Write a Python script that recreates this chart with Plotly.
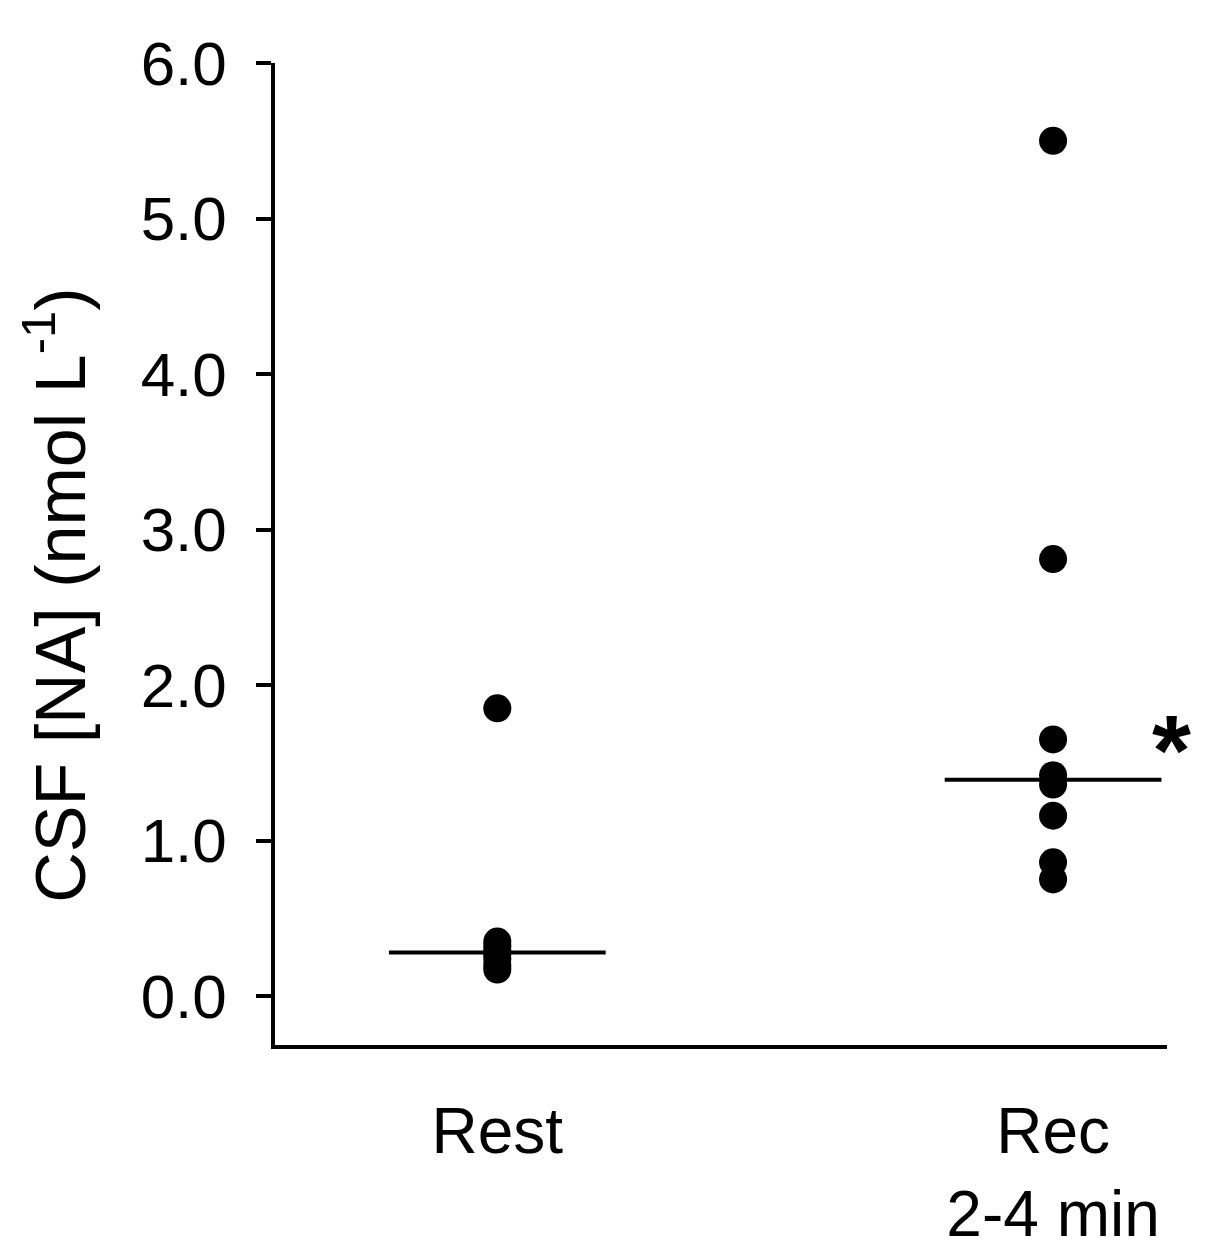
import numpy as np
import plotly.graph_objects as go

# values (nmol L-1)
groups = ["Rest", "Rec<br>2-4 min"]
group_x = [1, 2]
rest_vals = [1.85, 0.35, 0.32, 0.29, 0.27, 0.24, 0.20, 0.17]
rec_vals = [5.50, 2.81, 1.65, 1.42, 1.36, 1.16, 0.86, 0.75]
y_ticks = [0, 1, 2, 3, 4, 5, 6]
y_ticktext = ["0.0", "1.0", "2.0", "3.0", "4.0", "5.0", "6.0"]

FONT = "Liberation Sans"
half_w = 0.195

fig = go.Figure()

for gx, vals in zip(group_x, [rest_vals, rec_vals]):
    fig.add_trace(go.Scatter(x=[gx] * len(vals), y=vals, mode="markers",
                             marker=dict(color="black", size=28, symbol="circle"),
                             showlegend=False))
    med = float(np.median(vals))
    fig.add_trace(go.Scatter(x=[gx - half_w, gx + half_w], y=[med, med], mode="lines",
                             line=dict(color="black", width=4), showlegend=False))

# significance star next to the recovery group
fig.add_annotation(x=1.005, y=0.3147, xref="paper", yref="paper", text="<b>*</b>", showarrow=False,
                   font=dict(family=FONT, size=100, color="black"), xanchor="center", yanchor="middle",
                   yshift=-14)

fig.add_annotation(x=-0.246, y=0.458, xref="paper", yref="paper", text="CSF [NA] (nmol L<sup>-1</sup>)",
                   textangle=-90, showarrow=False, font=dict(family=FONT, size=70, color="black"),
                   xanchor="center", yanchor="middle")

fig.update_xaxes(range=[0.6, 2.205], tickvals=group_x, ticktext=groups, ticks="",
                 showline=True, linecolor="black", linewidth=3.5, showgrid=False, zeroline=False,
                 tickfont=dict(family=FONT, size=64, color="black"), ticklabelstandoff=27,
                 automargin=False)
fig.update_yaxes(range=[-0.315, 6.0], tickvals=y_ticks, ticktext=y_ticktext, ticks="outside",
                 ticklen=15, tickwidth=3.5, tickcolor="black",
                 showline=True, linecolor="black", linewidth=3.5, showgrid=False, zeroline=False,
                 tickfont=dict(family=FONT, size=62, color="black"), ticklabelstandoff=17,
                 automargin=False)

# page body has an 8px margin, so the figure is made a bit smaller
fig.update_layout(width=1212, height=1243, plot_bgcolor="white", paper_bgcolor="white",
                  margin=dict(l=267, r=53, t=55, b=206), font=dict(family=FONT, color="black"))

fig.write_html("out.html")
